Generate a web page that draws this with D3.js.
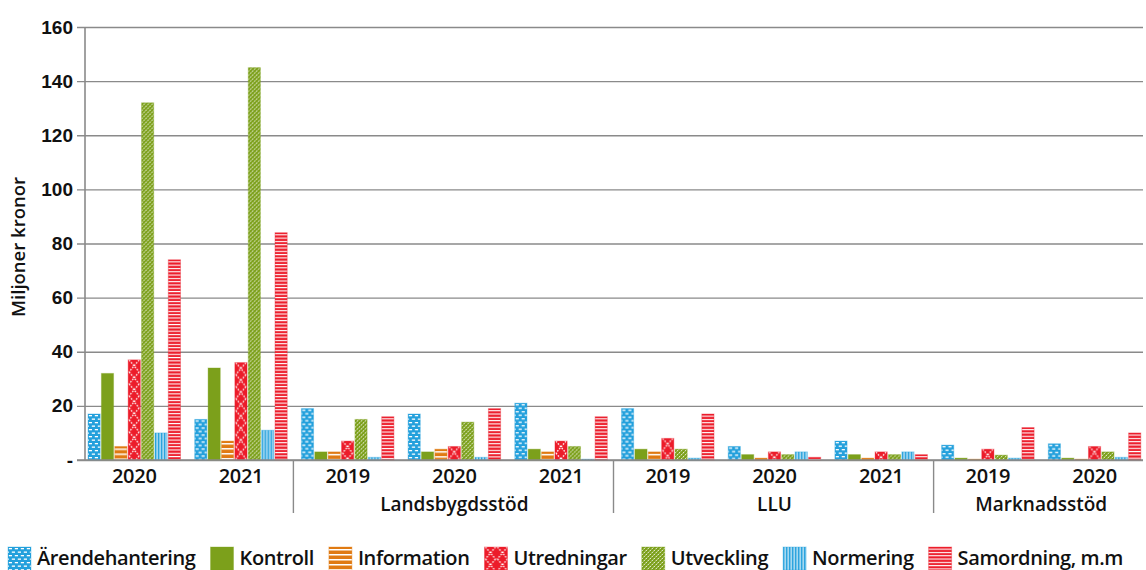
<!DOCTYPE html>
<html>
<head>
<meta charset="utf-8">
<script src="https://cdn.jsdelivr.net/npm/d3@7"></script>
<style>
  html, body { margin: 0; padding: 0; background: #fff; }
  svg { display: block; font-family: "Open Sans", "DejaVu Sans", sans-serif; }
  .tick-label { font-size: 19px; font-weight: 700; fill: #111; }
  .year-label { font-size: 20px; font-weight: 600; fill: #111; letter-spacing: -0.3px; }
  .cat-label { font-size: 19px; font-weight: 600; fill: #111; }
  .legend-label { font-size: 20px; font-weight: 600; fill: #111; letter-spacing: -0.4px; }
</style>
</head>
<body>
<svg id="chart" width="1146" height="570"></svg>
<script>
// Kostnader per område och år (miljoner kronor)
const groupYears = ['2020', '2021', '2019', '2020', '2021', '2019', '2020', '2021', '2019', '2020'];
const mainCategories = ['', 'Landsbygdsstöd', 'LLU', 'Marknadsstöd'];
const mainSpans = [2, 3, 3, 2];

const seriesNames = ['Ärendehantering', 'Kontroll', 'Information', 'Utredningar', 'Utveckling', 'Normering', 'Samordning, m.m'];

const arendehantering = [17, 15, 19, 17, 21, 19, 5, 7, 5.5, 6];
const kontroll = [32, 34, 3, 3, 4, 4, 2, 2, 0.7, 0.7];
const information = [5, 7, 3, 4, 3, 3, 0.7, 0.7, 0.3, 0.3];
const utredningar = [37, 36, 7, 5, 7, 8, 3, 3, 4, 5];
const utveckling = [132, 145, 15, 14, 5, 4, 2, 2, 1.8, 3];
const normering = [10, 11, 1, 1, 0.3, 0.7, 3, 3, 0.7, 1];
const samordning = [74, 84, 16, 19, 16, 17, 1, 2, 12, 10];

const yTicks = [0, 20, 40, 60, 80, 100, 120, 140, 160];

const seriesValues = [arendehantering, kontroll, information, utredningar, utveckling, normering, samordning];

const BLUE = '#23a0dc', GREEN = '#7ca01b', ORANGE = '#e07a12', RED = '#ec1c2a';
const seriesStyle = [
  { color: BLUE, kind: 'bricks' },
  { color: GREEN, kind: 'solid' },
  { color: ORANGE, kind: 'wideLines' },
  { color: RED, kind: 'lattice' },
  { color: GREEN, kind: 'diagonal' },
  { color: BLUE, kind: 'vertical' },
  { color: RED, kind: 'lines' }
];

const svg = d3.select('#chart');
const defs = svg.append('defs');

// mönster, ett per stapel så att det börjar i stapelns hörn
let patternCount = 0;
function fillFor(i, x, y) {
  const st = seriesStyle[i];
  if (st.kind === 'solid') return st.color;
  const id = 'p' + (patternCount++);
  let w = 6, h = 6;
  if (st.kind === 'bricks') { w = 6; h = 7; }
  if (st.kind === 'wideLines') { w = 6; h = 5; }
  if (st.kind === 'lattice') { w = 12; h = 12; }
  if (st.kind === 'diagonal') { w = 4; h = 4; }
  if (st.kind === 'vertical') { w = 3; h = 6; }
  if (st.kind === 'lines') { w = 6; h = 3.3; }
  const p = defs.append('pattern')
    .attr('id', id)
    .attr('patternUnits', 'userSpaceOnUse')
    .attr('x', x).attr('y', y)
    .attr('width', w).attr('height', h);
  p.append('rect').attr('width', w).attr('height', h).attr('fill', st.color);
  if (st.kind === 'bricks') {
    p.append('rect').attr('x', 0.8).attr('y', 1).attr('width', 3.2).attr('height', 1.3).attr('fill', '#fff');
    p.append('rect').attr('x', 3.8).attr('y', 4.5).attr('width', 3.2).attr('height', 1.3).attr('fill', '#fff');
    p.append('rect').attr('x', -2.2).attr('y', 4.5).attr('width', 3.2).attr('height', 1.3).attr('fill', '#fff');
  } else if (st.kind === 'wideLines') {
    p.append('rect').attr('x', 0).attr('y', 2).attr('width', w).attr('height', 1.5).attr('fill', '#fff');
  } else if (st.kind === 'lines') {
    p.append('rect').attr('x', 0).attr('y', 1.6).attr('width', w).attr('height', 1.1).attr('fill', '#fff');
  } else if (st.kind === 'vertical') {
    p.append('rect').attr('x', 1.6).attr('y', 0).attr('width', 1).attr('height', h).attr('fill', '#fff');
  } else if (st.kind === 'diagonal') {
    p.append('path').attr('d', 'M-1,1 L1,-1 M0,4 L4,0 M3,5 L5,3')
      .attr('stroke', '#fff').attr('stroke-width', 1).attr('stroke-dasharray', '1.6,0.9');
  } else if (st.kind === 'lattice') {
    p.append('path').attr('d', 'M1,0 L11,12 M11,0 L1,12')
      .attr('stroke', '#fff').attr('stroke-width', 1.3).attr('stroke-dasharray', '1.6,1.4');
  }
  return 'url(#' + id + ')';
}

const y = d3.scaleLinear().domain([0, 160]).range([460, 27]);
const x0 = d3.scaleBand().domain(d3.range(groupYears.length)).range([79.5, 1146.5]);
const x1 = d3.scaleBand().domain(d3.range(seriesNames.length)).range([8.5, 101]).paddingInner(0.09);
const groupCenter = (g) => x0(g) + (x1.range()[0] + x1.range()[1]) / 2;

const gridColor = '#8a8a8a';

// rutnät och y-axel
const yAxis = d3.axisLeft(y)
  .tickValues(yTicks)
  .tickSize(-1058)
  .tickPadding(12)
  .tickFormat((d) => (d === 0 ? '-' : d));

const ga = svg.append('g')
  .attr('transform', 'translate(85,0)')
  .call(yAxis);
ga.select('.domain').remove();
ga.selectAll('.tick line').attr('stroke', gridColor).attr('stroke-width', 1.4).attr('x1', -8);
ga.selectAll('.tick text').attr('class', 'tick-label').attr('font-family', null).attr('font-size', null);

// staplar
const bars = svg.append('g');
seriesValues.forEach((vals, i) => {
  bars.selectAll(null)
    .data(vals)
    .join('rect')
    .attr('x', (d, g) => x0(g) + x1(i))
    .attr('y', (d) => y(d))
    .attr('width', x1.bandwidth())
    .attr('height', (d) => y(0) - y(d))
    .attr('fill', (d, g) => fillFor(i, x0(g) + x1(i), y(d)))
    .attr('stroke', seriesStyle[i].color)
    .attr('stroke-opacity', 0.35)
    .attr('stroke-width', 1);
});

// y-axelns linje och nollinje
svg.append('line').attr('x1', 85).attr('x2', 85).attr('y1', 27).attr('y2', 460)
  .attr('stroke', gridColor).attr('stroke-width', 1.6);
svg.append('line').attr('x1', 77).attr('x2', 1143).attr('y1', 460).attr('y2', 460)
  .attr('stroke', gridColor).attr('stroke-width', 1.6);

// årsetiketter
svg.append('g').selectAll('text')
  .data(groupYears)
  .join('text')
  .attr('class', 'year-label')
  .attr('x', (d, g) => groupCenter(g))
  .attr('y', 483)
  .attr('text-anchor', 'middle')
  .text((d) => d);

// huvudkategorier med avgränsare
let start = 0;
mainCategories.forEach((cat, k) => {
  const span = mainSpans[k];
  const end = start + span - 1;
  if (k > 0) {
    const sx = x0(start) + 0.5;
    svg.append('line').attr('x1', sx).attr('x2', sx).attr('y1', 460).attr('y2', 513)
      .attr('stroke', gridColor).attr('stroke-width', 1.4);
  }
  if (cat) {
    svg.append('text')
      .attr('class', 'cat-label')
      .attr('x', (groupCenter(start) + groupCenter(end)) / 2)
      .attr('y', 511)
      .attr('text-anchor', 'middle')
      .text(cat);
  }
  start += span;
});

// y-axelns titel
svg.append('text')
  .attr('class', 'cat-label')
  .attr('transform', 'translate(25,247) rotate(-90)')
  .attr('text-anchor', 'middle')
  .style('font-size', '18.5px')
  .text('Miljoner kronor');

// förklaring
const legend = svg.append('g');
let lx = 8;
seriesNames.forEach((name, i) => {
  const item = legend.append('g');
  item.append('rect')
    .attr('x', lx).attr('y', 547).attr('width', 23).attr('height', 23)
    .attr('fill', fillFor(i, lx, 547))
    .attr('stroke', seriesStyle[i].color).attr('stroke-opacity', 0.35);
  const t = item.append('text')
    .attr('class', 'legend-label')
    .attr('x', lx + 29)
    .attr('y', 565)
    .text(name);
  lx += 29 + t.node().getComputedTextLength() + 15;
});
</script>
</body>
</html>
